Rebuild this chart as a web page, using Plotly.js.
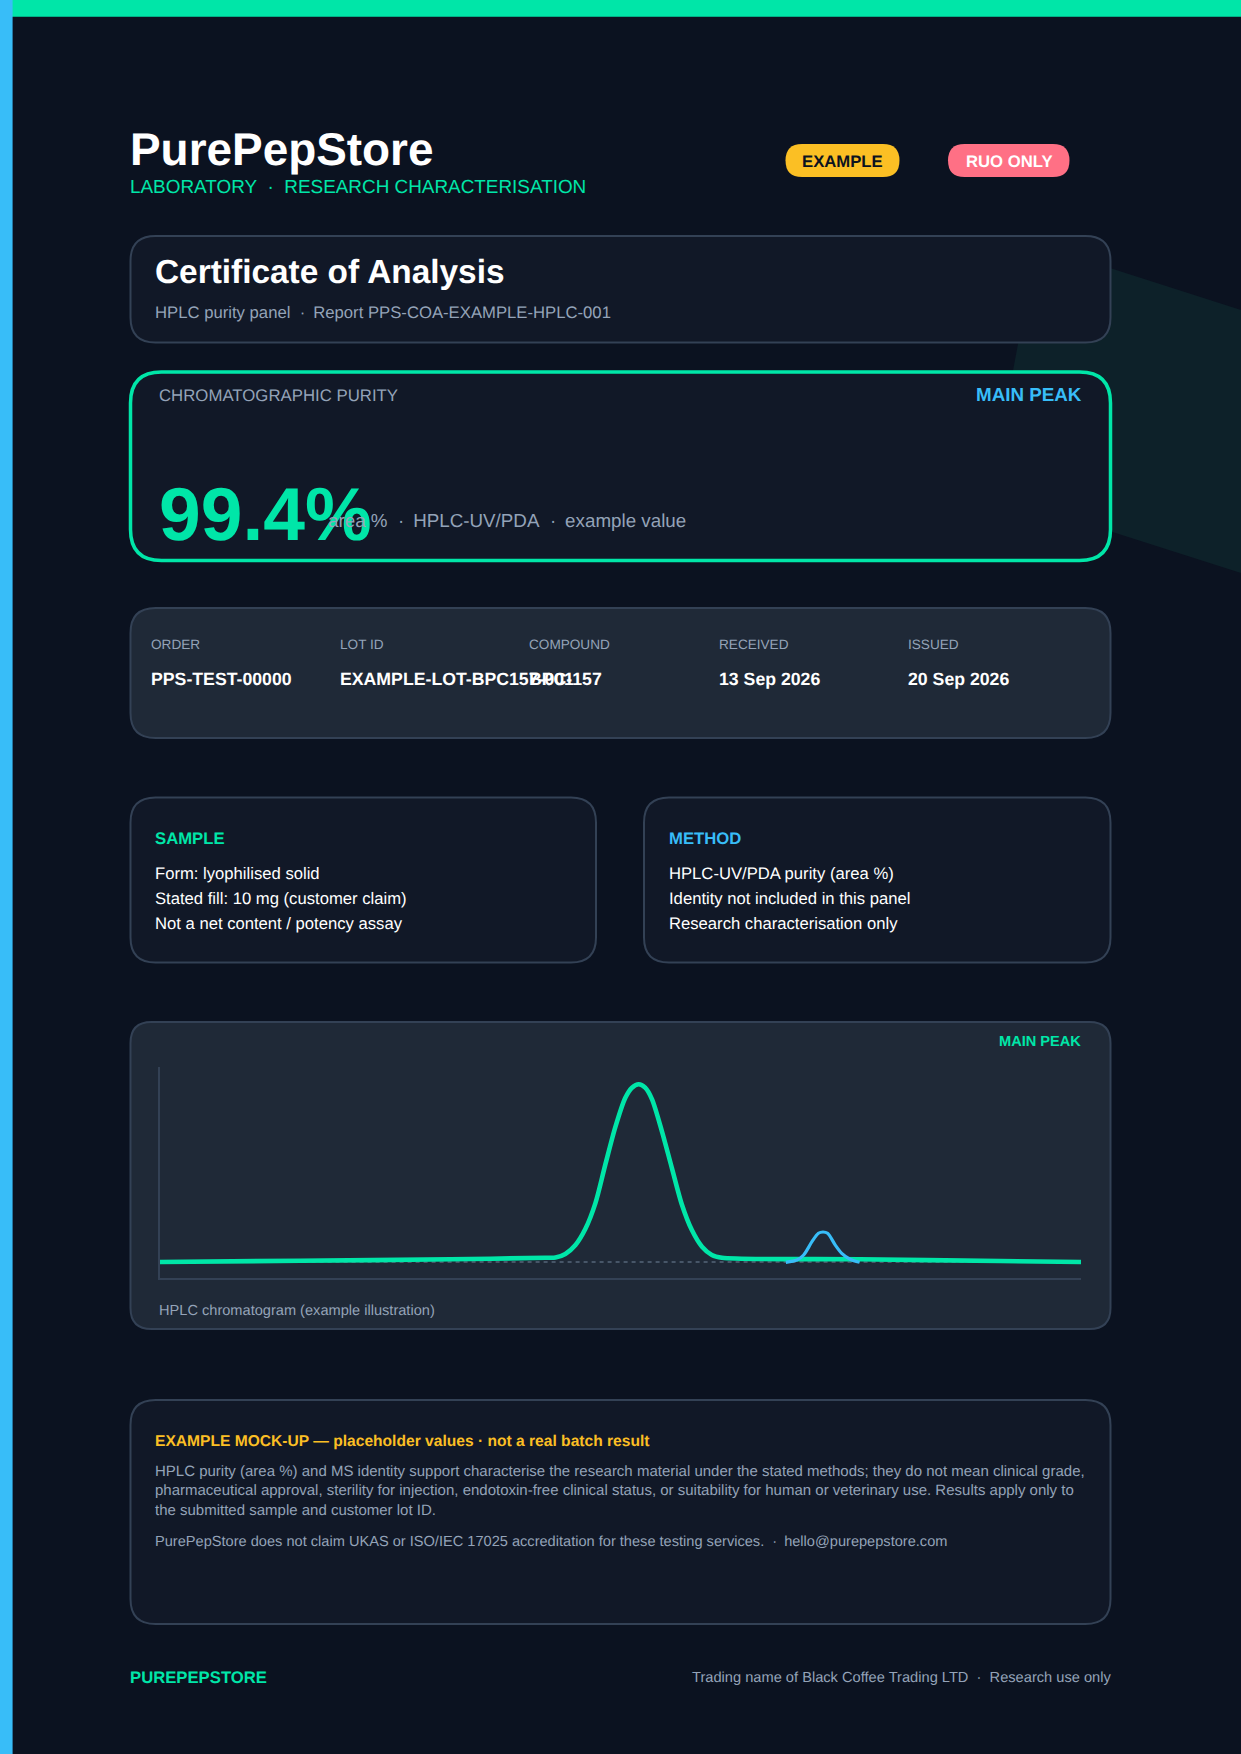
<!DOCTYPE html>
<html>
<head>
<meta charset="utf-8">
<title>Certificate of Analysis</title>
<script src="https://cdn.plot.ly/plotly-3.0.1.min.js"></script>
<style>
  html, body { margin: 0; padding: 0; background: #0b1220; }
  svg text { text-rendering: geometricPrecision; }
</style>
</head>
<body>
<div id="coa"></div>
<script>
// chromatogram: time in minutes, signal in % of the y range
var mainTime = [0, 4.59, 9.47, 12.56, 12.89, 13.21, 13.54, 13.86, 14.19, 14.51, 14.84, 15.16, 15.38, 15.6, 15.81, 16.03, 16.36, 16.68, 17.01, 17.33, 17.66, 17.98, 18.31, 22.81, 27.37, 30];
var mainSignal = [7.58, 8.2, 8.86, 9.62, 9.7, 11.37, 15.64, 23.2, 35.5, 53.6, 71.6, 85.3, 90.2, 91.8, 90.2, 84.8, 69.3, 52.1, 34.6, 22.7, 14.8, 10.9, 9.62, 8.86, 8.06, 7.58];
var impurityTime = [20.39, 20.75, 20.97, 21.24, 21.45, 21.6, 21.75, 22.0, 22.21, 22.49, 22.79];
var impuritySignal = [7.44, 8.53, 10.9, 17.2, 21.2, 21.8, 21.2, 15.6, 11.7, 8.86, 7.44];
var baselineTime = [0, 30];
var baselineSignal = [7.58, 7.58];

var metaLabels = ["ORDER", "LOT ID", "COMPOUND", "RECEIVED", "ISSUED"];
var metaValues = ["PPS-TEST-00000", "EXAMPLE-LOT-BPC157-001", "BPC-157", "13 Sep 2026", "20 Sep 2026"];
var sampleLines = ["Form: lyophilised solid", "Stated fill: 10 mg (customer claim)", "Not a net content / potency assay"];
var methodLines = ["HPLC-UV/PDA purity (area %)", "Identity not included in this panel", "Research characterisation only"];
var noteLines = [
  "HPLC purity (area %) and MS identity support characterise the research material under the stated methods; they do not mean clinical grade,",
  "pharmaceutical approval, sterility for injection, endotoxin-free clinical status, or suitability for human or veterinary use. Results apply only to",
  "the submitted sample and customer lot ID."
];

var W = 1241, H = 1754;
var GREEN = "#00e6a8", BLUE = "#38bdf8", AMBER = "#fbbf24", ROSE = "#ff7085";
var MUTED = "#94a3b8", WHITE = "#ffffff", BORDER = "#334155";
var PAGE = "#0b1220", PANEL = "#111827", PANEL2 = "#1f2937";

function px(x) { return x / W; }
function py(y) { return 1 - y / H; }
function pt(x, y) { return px(x) + " " + py(y); }

function rounded(x0, y0, x1, y1, r) {
  return "M " + pt(x0 + r, y0) +
    " L " + pt(x1 - r, y0) + " Q " + pt(x1, y0) + " " + pt(x1, y0 + r) +
    " L " + pt(x1, y1 - r) + " Q " + pt(x1, y1) + " " + pt(x1 - r, y1) +
    " L " + pt(x0 + r, y1) + " Q " + pt(x0, y1) + " " + pt(x0, y1 - r) +
    " L " + pt(x0, y0 + r) + " Q " + pt(x0, y0) + " " + pt(x0 + r, y0) + " Z";
}

function box(x0, y0, x1, y1, r, fill, line, lw) {
  return {
    type: "path", xref: "paper", yref: "paper", layer: "below",
    path: rounded(x0, y0, x1, y1, r), fillcolor: fill,
    line: { color: line, width: lw }
  };
}

function rect(x0, y0, x1, y1, fill) {
  return {
    type: "rect", xref: "paper", yref: "paper", layer: "below",
    x0: px(x0), x1: px(x1), y0: py(y0), y1: py(y1),
    fillcolor: fill, line: { width: 0 }
  };
}

// y is the text baseline in page pixels
function label(str, x, y, size, color, bold, anchor) {
  var drop = bold ? 0.8 : 0;
  return {
    xref: "paper", yref: "paper", showarrow: false, borderpad: 0, borderwidth: 0,
    x: px(x), y: py(y + drop - size * 0.3465), xanchor: anchor || "left", yanchor: "middle",
    align: anchor || "left", text: str,
    font: { family: "Liberation Sans", size: size, color: color, weight: bold ? 700 : 400 }
  };
}

var shapes = [
  // faint green wedge behind the top panels
  {
    type: "path", xref: "paper", yref: "paper", layer: "below",
    path: "M " + pt(1241, 310) + " L " + pt(1060, 252) + " L " + pt(1018, 344) + " L " + pt(1000, 440) +
      " L " + pt(1100, 528) + " L " + pt(1241, 573) + " Z",
    fillcolor: "#0d2129", line: { width: 0 }
  },
  rect(0, 0, W, 16.7, GREEN),
  rect(0, 0, 12.6, H, BLUE),
  box(130.5, 236, 1110.5, 342.5, 25, PANEL, BORDER, 2),
  box(130.5, 372, 1110.5, 560.5, 31, PANEL, GREEN, 3.5),
  box(130.5, 608, 1110.5, 738, 25, PANEL2, BORDER, 2),
  box(130.5, 797.5, 596, 962.5, 25, PANEL, BORDER, 2),
  box(644, 797.5, 1110.5, 962.5, 25, PANEL, BORDER, 2),
  box(130.5, 1022, 1110.5, 1329, 21, PANEL2, BORDER, 2),
  box(130.5, 1400, 1110.5, 1624, 25, PANEL, BORDER, 2),
  box(785.5, 144, 899.5, 177, 16.5, AMBER, AMBER, 0),
  box(948, 144, 1069.5, 177, 16.5, ROSE, ROSE, 0)
];

var sp = "\u00a0\u00a0\u00b7\u00a0\u00a0";
var spTight = "\u00a0\u00a0\u00b7\u00a0\u2009";
var annotations = [
  label("PurePepStore", 130, 164.5, 45.9, WHITE, true),
  label("LABORATORY" + sp + "RESEARCH CHARACTERISATION", 130, 194, 18.9, GREEN, false),
  label("EXAMPLE", 842.5, 166.2, 16.7, "#0b1220", true, "center"),
  label("RUO ONLY", 1009.2, 166.2, 16.7, WHITE, true, "center"),
  label("Certificate of Analysis", 155, 283, 33.4, WHITE, true),
  label("HPLC purity panel" + spTight + "Report PPS-COA-EXAMPLE-HPLC-001", 155, 318, 16.7, MUTED, false),
  label("CHROMATOGRAPHIC PURITY", 159, 401.5, 16.8, MUTED, false),
  label("MAIN PEAK", 1081.5, 400.7, 18.8, BLUE, true, "right"),
  label("99.4%", 159, 539.6, 75, GREEN, true),
  label("area %" + spTight + "HPLC-UV/PDA" + spTight + "example value", 328, 527.4, 18.8, MUTED, false),
  label("SAMPLE", 155, 843.7, 16.7, GREEN, true),
  label("METHOD", 668.5, 843.7, 16.7, BLUE, true),
  label("MAIN PEAK", 1081, 1046.3, 14.6, GREEN, true, "right"),
  label("HPLC chromatogram (example illustration)", 159, 1316.4, 14.6, MUTED, false),
  label("EXAMPLE MOCK-UP \u2014 placeholder values \u00b7 not a real batch result", 155, 1445.7, 15.6, AMBER, true),
  label("PurePepStore does not claim UKAS or ISO/IEC 17025 accreditation for these testing services." + spTight + "hello@purepepstore.com", 155, 1546.7, 14.6, MUTED, false),
  label("PUREPEPSTORE", 130, 1682.7, 16.7, GREEN, true),
  label("Trading name of Black Coffee Trading LTD" + sp + "Research use only", 1110.5, 1683, 14.65, MUTED, false, "right")
];

var metaX = [150.6, 340, 529.4, 719, 908];
metaLabels.forEach(function(t, i) {
  annotations.push(label(t, metaX[i], 649, 13.6, MUTED, false));
});
metaValues.forEach(function(t, i) {
  annotations.push(label(t, metaX[i], 684.7, 17.7, WHITE, true));
});

var listY = [879.3, 904.3, 929.3];
sampleLines.forEach(function(t, i) {
  annotations.push(label(t, 155, listY[i], 16.65, WHITE, false));
});
methodLines.forEach(function(t, i) {
  annotations.push(label(t, 668.5, listY[i], 16.65, WHITE, false));
});

var noteY = [1476.7, 1496, 1515.7];
noteLines.forEach(function(t, i) {
  annotations.push(label(t, 155, noteY[i], 15, MUTED, false));
});

var traces = [
  {
    x: baselineTime, y: baselineSignal, mode: "lines", hoverinfo: "skip",
    line: { color: "#56657a", width: 1.5, dash: "4px,4px" }
  },
  {
    x: mainTime, y: mainSignal, mode: "lines", hoverinfo: "skip",
    line: { color: GREEN, width: 4.6, shape: "spline", smoothing: 0.8 }
  },
  {
    x: impurityTime, y: impuritySignal, mode: "lines", hoverinfo: "skip",
    line: { color: BLUE, width: 3.2, shape: "spline", smoothing: 0.8 }
  }
];

var layout = {
  width: W,
  height: H,
  margin: { l: 0, r: 0, t: 0, b: 0 },
  paper_bgcolor: PAGE,
  plot_bgcolor: "rgba(0,0,0,0)",
  showlegend: false,
  xaxis: {
    domain: [px(159.6), px(1081)], range: [0, 30],
    showgrid: false, zeroline: false, showticklabels: false, ticks: "",
    showline: true, linecolor: BORDER, linewidth: 1.5
  },
  yaxis: {
    domain: [py(1278), py(1067)], range: [0, 100],
    showgrid: false, zeroline: false, showticklabels: false, ticks: "",
    showline: true, linecolor: BORDER, linewidth: 1.5
  },
  shapes: shapes,
  annotations: annotations
};

Plotly.newPlot("coa", traces, layout, { displayModeBar: false, staticPlot: true });
</script>
</body>
</html>
